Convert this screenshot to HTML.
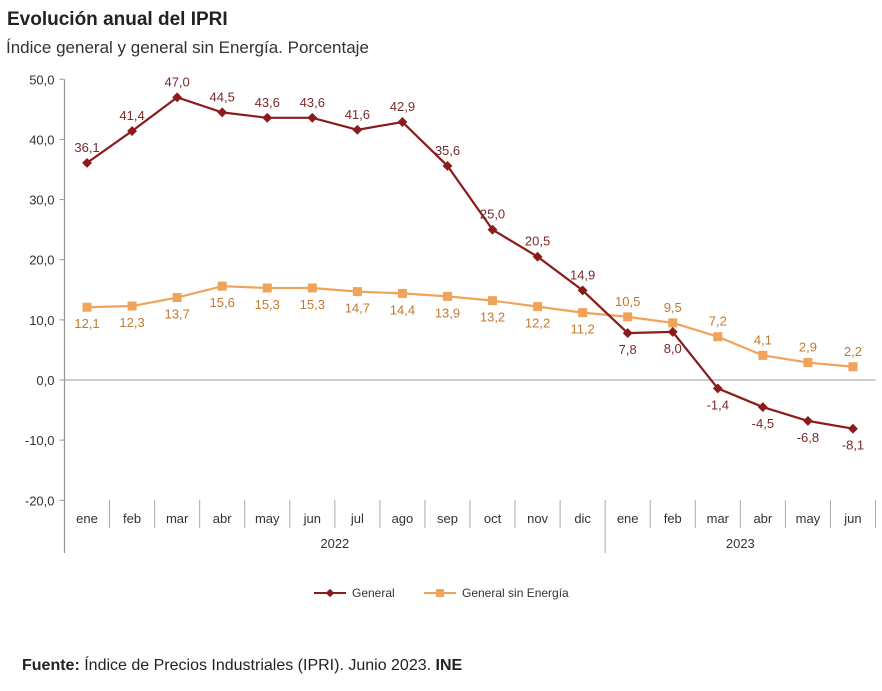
<!DOCTYPE html>
<html><head><meta charset="utf-8"><style>
body{margin:0;background:#fff;width:882px;height:691px;overflow:hidden;font-family:"Liberation Sans",sans-serif}
.t{position:absolute;left:7px;top:9px;font-size:19px;font-weight:bold;color:#222}
.s{position:absolute;left:6px;top:38px;font-size:17px;color:#333}
.f{position:absolute;left:22px;top:657px;font-size:16px;color:#222}
</style></head><body>
<div class="t">Evolución anual del IPRI</div>
<div class="s">Índice general y general sin Energía. Porcentaje</div>
<svg id="c" width="882" height="691" style="position:absolute;left:0;top:0"></svg>
<div class="f"><b>Fuente:</b> Índice de Precios Industriales (IPRI). Junio 2023. <b>INE</b></div>
<script>
const months=["ene","feb","mar","abr","may","jun","jul","ago","sep","oct","nov","dic","ene","feb","mar","abr","may","jun"];
const years=["2022","2023"];
const general=[36.1,41.4,47.0,44.5,43.6,43.6,41.6,42.9,35.6,25.0,20.5,14.9,7.8,8.0,-1.4,-4.5,-6.8,-8.1];
const sinEnergia=[12.1,12.3,13.7,15.6,15.3,15.3,14.7,14.4,13.9,13.2,12.2,11.2,10.5,9.5,7.2,4.1,2.9,2.2];
const yTicks=[50,40,30,20,10,0,-10,-20];
const genBelow=[0,0,0,0,0,0,0,0,0,0,0,0,1,1,1,1,1,1];
const sinAbove=[0,0,0,0,0,0,0,0,0,0,0,0,1,1,1,1,1,1];
const svg=document.getElementById('c');const NS='http://www.w3.org/2000/svg';
const L=64.5,R=875.5,step=(R-L)/months.length;
const x=i=>L+step*(i+0.5);
const y=v=>380-v*6.014;
const fmt=v=>v.toFixed(1).replace('.',',');
function mk(t,a,p){const e=document.createElementNS(NS,t);for(const k in a)e.setAttribute(k,a[k]);(p||svg).appendChild(e);return e;}
mk('line',{x1:L,y1:y(50),x2:L,y2:553,stroke:'#999','stroke-width':1.3});
yTicks.forEach(v=>{
 mk('line',{x1:L-5,y1:y(v),x2:L,y2:y(v),stroke:'#999'});
 const t=mk('text',{x:L-10,y:y(v)+5,'text-anchor':'end','font-size':13,fill:'#333'});t.textContent=fmt(v);
 
 
});
mk('line',{x1:L,y1:y(0),x2:R,y2:y(0),stroke:'#999'});
months.forEach((m,i)=>{
 const t=mk('text',{x:x(i),y:523,'text-anchor':'middle','font-size':13,fill:'#333'});t.textContent=m;
 
 
 if(i>0){const xe=L+step*i;mk('line',{x1:xe,y1:500,x2:xe,y2:(i%12==0)?553:528,stroke:'#aaa'});}
});
mk('line',{x1:R,y1:500,x2:R,y2:528,stroke:'#aaa'});
years.forEach((yr,k)=>{
 const n=k==0?12:6,s=k*12;
 const t=mk('text',{x:(x(s)+x(s+n-1))/2,y:548,'text-anchor':'middle','font-size':13,fill:'#333'});t.textContent=yr;
 
 
});
function series(d,col,shape,above,name){
 const p=mk('polyline',{points:d.map((v,i)=>x(i)+','+y(v)).join(' '),fill:'none',stroke:col,'stroke-width':2.2});
 
 
 d.forEach((v,i)=>{
  let m;
  if(shape=='d')m=mk('rect',{x:x(i)-3.5,y:y(v)-3.5,width:7,height:7,fill:col,transform:`rotate(45 ${x(i)} ${y(v)})`});
  else m=mk('rect',{x:x(i)-4.5,y:y(v)-4.5,width:9,height:9,fill:col});
  
  
  const up=above(i);
  const t=mk('text',{x:x(i)+(shape=='d'&&i==0?0:0),y:up?y(v)-11:y(v)+21,'text-anchor':'middle','font-size':13,fill:shape=='d'?'#7a2a2a':'#c07a30'});
  t.textContent=fmt(v);
  
  
 });
}
series(sinEnergia,'#f0a35a','s',i=>sinAbove[i],'sin-energia');
series(general,'#8b1c1c','d',i=>!genBelow[i],'general');
// legend
const lg=mk('g',{});
mk('line',{x1:314,y1:593,x2:346,y2:593,stroke:'#8b1c1c','stroke-width':2},lg);
mk('rect',{x:327,y:590,width:6,height:6,fill:'#8b1c1c',transform:'rotate(45 330 593)'},lg);
let t=mk('text',{x:352,y:597,'font-size':12,fill:'#333'},lg);t.textContent='General';
mk('line',{x1:424,y1:593,x2:456,y2:593,stroke:'#f0a35a','stroke-width':2},lg);
mk('rect',{x:436,y:589,width:8,height:8,fill:'#f0a35a'},lg);
t=mk('text',{x:462,y:597,'font-size':12,fill:'#333'},lg);t.textContent='General sin Energía';
</script>
</body></html>
